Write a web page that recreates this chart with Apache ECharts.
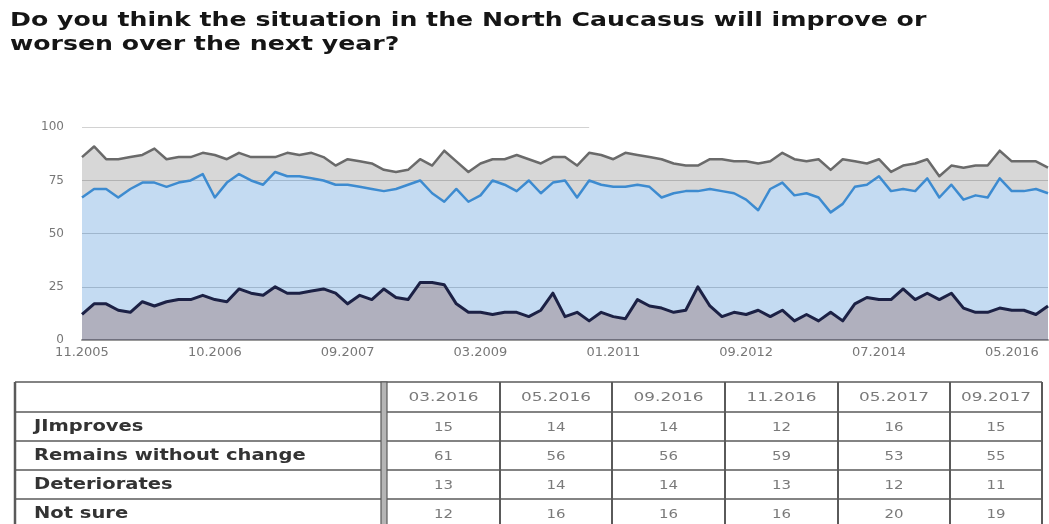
<!DOCTYPE html>
<html>
<head>
<meta charset="utf-8">
<script src="https://cdn.jsdelivr.net/npm/echarts@6/dist/echarts.min.js"></script>
<style>
html,body{margin:0;padding:0;background:#fff;}
#chart{width:1049px;height:524px;}
</style>
</head>
<body>
<div id="chart"></div>
<script>
// ---- data ----
const titleLines = ['Do you think the situation in the North Caucasus will improve or', 'worsen over the next year?'];
const categories = [
  '11.2005','12.2005','01.2006','02.2006','03.2006','04.2006','05.2006','06.2006','07.2006','08.2006','09.2006',
  '10.2006','11.2006','12.2006','01.2007','02.2007','03.2007','04.2007','05.2007','06.2007','07.2007','08.2007',
  '09.2007','10.2007','11.2007','12.2007','02.2008','04.2008','06.2008','08.2008','10.2008','11.2008','01.2009',
  '03.2009','05.2009','07.2009','09.2009','11.2009','01.2010','03.2010','05.2010','07.2010','09.2010','11.2010',
  '01.2011','03.2011','05.2011','07.2011','09.2011','11.2011','01.2012','03.2012','04.2012','05.2012','07.2012',
  '09.2012','11.2012','01.2013','03.2013','05.2013','07.2013','09.2013','11.2013','01.2014','03.2014','05.2014',
  '07.2014','09.2014','11.2014','01.2015','03.2015','05.2015','07.2015','09.2015','11.2015','01.2016','03.2016',
  '05.2016','09.2016','11.2016','05.2017'
];
const improves = [
  12,17,17,14,13,18,16,18,19,19,21,
  19,18,24,22,21,25,22,22,23,24,22,
  17,21,19,24,20,19,27,27,26,17,13,
  13,12,13,13,11,14,22,11,13,9,13,
  11,10,19,16,15,13,14,25,16,11,13,
  12,14,11,14,9,12,9,13,9,17,20,
  19,19,24,19,22,19,22,15,13,13,15,
  14,14,12,16
];
const remains = [
  55,54,54,53,58,56,58,54,55,56,57,
  48,56,54,53,52,54,55,55,53,51,51,
  56,51,52,46,51,54,48,42,39,54,52,
  55,63,60,57,64,55,52,64,54,66,60,
  61,62,54,56,52,56,56,45,55,59,56,
  54,47,60,60,59,57,58,47,55,55,53,
  58,51,47,51,54,48,51,51,55,54,61,
  56,56,59,53
];
const deteriorates = [
  19,20,14,18,15,13,16,13,12,11,10,
  20,11,10,11,13,7,11,10,12,11,9,
  12,12,12,10,8,7,10,13,24,13,14,
  15,10,12,17,10,14,12,11,15,13,14,
  13,16,14,14,18,14,12,12,14,15,15,
  18,22,13,14,17,15,18,20,21,12,10,
  8,9,11,13,9,10,9,15,14,15,13,
  14,14,13,12
];
const yTicks = [0, 25, 50, 75, 100];

// table data
const tableDates = ['03.2016','05.2016','09.2016','11.2016','05.2017','09.2017'];
const tableRowNames = ['JImproves','Remains without change','Deteriorates','Not sure'];
const tableImproves = [15,14,14,12,16,15];
const tableRemains = [61,56,56,59,53,55];
const tableDeteriorates = [13,14,14,13,12,11];
const tableNotSure = [12,16,16,16,20,19];
const tableValues = [tableImproves, tableRemains, tableDeteriorates, tableNotSure];

// ---- graphics: title + table ----
const g = [];
titleLines.forEach((t, i) => {
  g.push({type:'text', x:10, y:21 + i*24, scaleX:1.26,
    style:{text:t, fill:'#151515', font:'bold 20px "DejaVu Sans"', align:'left', verticalAlign:'middle'}, z:5});
});

const colEdges = [387, 500, 612, 725, 838, 950, 1042];
const rowEdges = [382, 412, 441, 470, 499, 528];
const tableLeft = 15, dblL = 381;
const lineColor = '#5a5a5a';
g.push({type:'rect', shape:{x:tableLeft, y:rowEdges[0], width:colEdges[colEdges.length-1]-tableLeft, height:rowEdges[rowEdges.length-1]-rowEdges[0]}, style:{fill:'#fff', stroke:null}, z:0});
rowEdges.forEach(y => {
  g.push({type:'line', shape:{x1:tableLeft, y1:y, x2:colEdges[colEdges.length-1], y2:y}, style:{stroke:lineColor, lineWidth:1.5}, z:2});
});
g.push({type:'line', shape:{x1:tableLeft, y1:rowEdges[0], x2:tableLeft, y2:rowEdges[rowEdges.length-1]}, style:{stroke:lineColor, lineWidth:2.5}, z:2});
g.push({type:'rect', shape:{x:dblL, y:rowEdges[0], width:colEdges[0]-dblL, height:rowEdges[rowEdges.length-1]-rowEdges[0]}, style:{fill:'#b5b5b5', stroke:lineColor, lineWidth:1.2}, z:2});
colEdges.slice(1).forEach(x => {
  g.push({type:'line', shape:{x1:x, y1:rowEdges[0], x2:x, y2:rowEdges[rowEdges.length-1]}, style:{stroke:lineColor, lineWidth:2}, z:2});
});
tableDates.forEach((d, i) => {
  g.push({type:'text', x:(colEdges[i]+colEdges[i+1])/2, y:(rowEdges[0]+rowEdges[1])/2 + 1, scaleX:1.3,
    style:{text:d, fill:'#7a7a7a', font:'13px "DejaVu Sans"', align:'center', verticalAlign:'middle'}, z:3});
});
tableRowNames.forEach((name, r) => {
  const cy = (rowEdges[r+1]+rowEdges[r+2])/2 + 1;
  g.push({type:'text', x:34, y:cy, scaleX:1.3,
    style:{text:name, fill:'#333', font:'bold 15px "DejaVu Sans"', align:'left', verticalAlign:'middle'}, z:3});
  tableValues[r].forEach((v, i) => {
    g.push({type:'text', x:(colEdges[i]+colEdges[i+1])/2, y:cy, scaleX:1.15,
      style:{text:String(v), fill:'#7a7a7a', font:'13px "DejaVu Sans"', align:'center', verticalAlign:'middle'}, z:3});
  });
});

// ---- chart ----
const chart = echarts.init(document.getElementById('chart'), null, {renderer:'canvas'});
const option = {
  animation: false,
  backgroundColor: '#fff',
  grid: {left: 82, right: 1, top: 127.3, bottom: 184, containLabel: false},
  xAxis: {
    type: 'category',
    data: categories,
    boundaryGap: false,
    axisLine: {show: true, lineStyle: {color: '#9a9a9a', width: 2}},
    axisTick: {show: false},
    axisLabel: {interval: function (idx) { return idx % 11 === 0; }, margin: 6,
      color: '#777', fontFamily: 'DejaVu Sans', fontSize: 13},
    splitLine: {show: false}
  },
  yAxis: {
    type: 'value',
    min: yTicks[0], max: yTicks[yTicks.length-1], interval: 25,
    axisLine: {show: false},
    axisTick: {show: false},
    axisLabel: {margin: 18, color: '#777', fontFamily: 'DejaVu Sans', fontSize: 12},
    splitLine: {show: true, showMaxLine: false, showMinLine: false, lineStyle: {color: '#c4c4c4', width: 1.2}}
  },
  graphic: g,
  series: [
    {
      name: 'Improves', type: 'line', stack: 'total', data: improves,
      symbol: 'none', lineStyle: {color: '#1c2145', width: 3, join: 'round'},
      areaStyle: {color: 'rgba(40,40,80,0.37)', opacity: 1},
      markLine: {
        silent: true, symbol: 'none', label: {show: false},
        lineStyle: {color: '#d2d2d2', width: 1.2, type: 'solid'},
        data: [[{coord: [0, 100]}, {coord: [42, 100]}]]
      },
      z: 4
    },
    {
      name: 'Remains without change', type: 'line', stack: 'total', data: remains,
      symbol: 'none', lineStyle: {color: '#3d8bd0', width: 2.5, join: 'round'},
      areaStyle: {color: 'rgba(100,160,220,0.38)', opacity: 1},
      z: 3
    },
    {
      name: 'Deteriorates', type: 'line', stack: 'total', data: deteriorates,
      symbol: 'none', lineStyle: {color: '#6a6a6a', width: 2.5, join: 'round'},
      areaStyle: {color: 'rgba(150,150,150,0.38)', opacity: 1},
      z: 2
    }
  ]
};
chart.setOption(option);
</script>
</body>
</html>
